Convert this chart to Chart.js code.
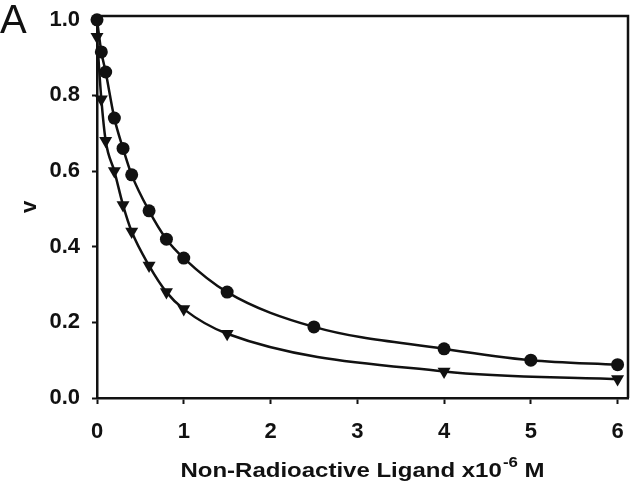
<!DOCTYPE html>
<html>
<head>
<meta charset="utf-8">
<script src="https://cdn.jsdelivr.net/npm/chart.js@4"></script>
<style>
  html, body { margin: 0; padding: 0; background: #fff; }
  #wrap { width: 630px; height: 485px; }
</style>
</head>
<body>
<div id="wrap"><canvas id="bindingChart" width="630" height="485"></canvas></div>
<script>
// ligand concentration (x10^-6 M) and fractional binding v
const xCircle = [0, 0.05, 0.1, 0.2, 0.3, 0.4, 0.6, 0.8, 1.0, 1.5, 2.5, 4, 5, 6];
const vCircle = [1.0, 0.915, 0.862, 0.74, 0.66, 0.59, 0.495, 0.42, 0.37, 0.28, 0.188, 0.13, 0.1, 0.088];
const xTriangle = [0, 0.05, 0.1, 0.2, 0.3, 0.4, 0.6, 0.8, 1.0, 1.5, 4, 6];
const vTriangle = [0.955, 0.79, 0.68, 0.6, 0.51, 0.44, 0.35, 0.28, 0.235, 0.17, 0.07, 0.05];
const xTicks = [0, 1, 2, 3, 4, 5, 6];
const yTicks = [0.0, 0.2, 0.4, 0.6, 0.8, 1.0];

const FONT = "'Liberation Sans', Arial, sans-serif";
const INK = '#111';

const toPoints = (xs, ys) => xs.map((x, i) => ({ x: x, y: ys[i] }));

// top/right frame, panel letter and the axis title with its superscript
const decorations = {
  id: 'decorations',
  beforeDatasetsDraw(chart) {
    const { ctx, chartArea: a } = chart;
    ctx.save();
    ctx.strokeStyle = INK;
    ctx.lineWidth = 2.5;
    ctx.beginPath();
    ctx.moveTo(a.left, a.top);
    ctx.lineTo(a.right, a.top);
    ctx.lineTo(a.right, a.bottom);
    ctx.stroke();
    ctx.restore();
  },
  afterDraw(chart) {
    const { ctx, chartArea: a } = chart;
    ctx.save();
    ctx.fillStyle = INK;
    ctx.textBaseline = 'alphabetic';

    ctx.font = '40px ' + FONT;
    ctx.textAlign = 'left';
    ctx.fillText('A', 0, 33);

    const main = 'Non-Radioactive Ligand x10';
    const sup = '-6';
    const tail = ' M';
    const big = 'bold 20px ' + FONT;
    const small = 'bold 14px ' + FONT;
    const stretch = 1.2;
    ctx.font = big;
    const w1 = ctx.measureText(main).width;
    const w3 = ctx.measureText(tail).width;
    ctx.font = small;
    const w2 = ctx.measureText(sup).width;
    const total = (w1 + w2 + w3 + 1) * stretch;
    const cx = (a.left + a.right) / 2;
    ctx.translate(cx - total / 2, 477);
    ctx.scale(stretch, 1);
    let x = 0;
    ctx.font = big;
    ctx.fillText(main, x, 0);
    x += w1;
    ctx.font = small;
    ctx.fillText(sup, x + 1, -10);
    x += w2 + 1;
    ctx.font = big;
    ctx.fillText(tail, x, 0);
    ctx.restore();
  }
};

new Chart(document.getElementById('bindingChart'), {
  type: 'line',
  data: {
    datasets: [
      {
        label: 'circles',
        data: toPoints(xCircle, vCircle),
        borderColor: INK,
        backgroundColor: INK,
        borderWidth: 2.5,
        pointStyle: 'circle',
        pointRadius: 6.5,
        pointBorderWidth: 0,
        cubicInterpolationMode: 'monotone',
        clip: false
      },
      {
        label: 'triangles',
        data: toPoints(xTriangle, vTriangle),
        borderColor: INK,
        backgroundColor: INK,
        borderWidth: 2.5,
        pointStyle: 'triangle',
        rotation: 180,
        pointRadius: 7.5,
        pointBorderWidth: 0,
        cubicInterpolationMode: 'monotone',
        clip: false
      }
    ]
  },
  options: {
    responsive: false,
    animation: false,
    devicePixelRatio: 1,
    layout: { autoPadding: false, padding: { left: 0, right: 2, top: 16, bottom: 0 } },
    plugins: {
      legend: { display: false },
      tooltip: { enabled: false }
    },
    scales: {
      x: {
        type: 'linear',
        min: 0,
        max: 6.12,
        afterFit: (scale) => {
          scale.height = 87;
          scale.paddingLeft = 0;
          scale.paddingRight = 0;
        },
        afterBuildTicks: (scale) => { scale.ticks = xTicks.map(v => ({ value: v })); },
        grid: { drawOnChartArea: false, drawTicks: true, tickLength: 6, tickWidth: 2, tickColor: INK },
        border: { display: true, color: INK, width: 2.5 },
        ticks: {
          padding: 15,
          color: INK,
          font: { family: FONT, size: 22, weight: 'bold' },
          callback: (v) => String(v)
        }
      },
      y: {
        min: 0,
        max: 1.01,
        afterFit: (scale) => {
          scale.width = 97;
          scale.paddingTop = 0;
          scale.paddingBottom = 0;
        },
        afterBuildTicks: (scale) => { scale.ticks = yTicks.map(v => ({ value: v })); },
        grid: { drawOnChartArea: false, drawTicks: true, tickLength: 5, tickWidth: 2, tickColor: INK },
        border: { display: true, color: INK, width: 2.5 },
        title: {
          display: true,
          text: 'v',
          color: INK,
          padding: { top: 17, bottom: 0 },
          font: { family: FONT, size: 22, weight: 'bold' }
        },
        ticks: {
          padding: 12,
          color: INK,
          font: { family: FONT, size: 22, weight: 'bold' },
          callback: (v) => v.toFixed(1)
        }
      }
    }
  },
  plugins: [decorations]
});
</script>
</body>
</html>
